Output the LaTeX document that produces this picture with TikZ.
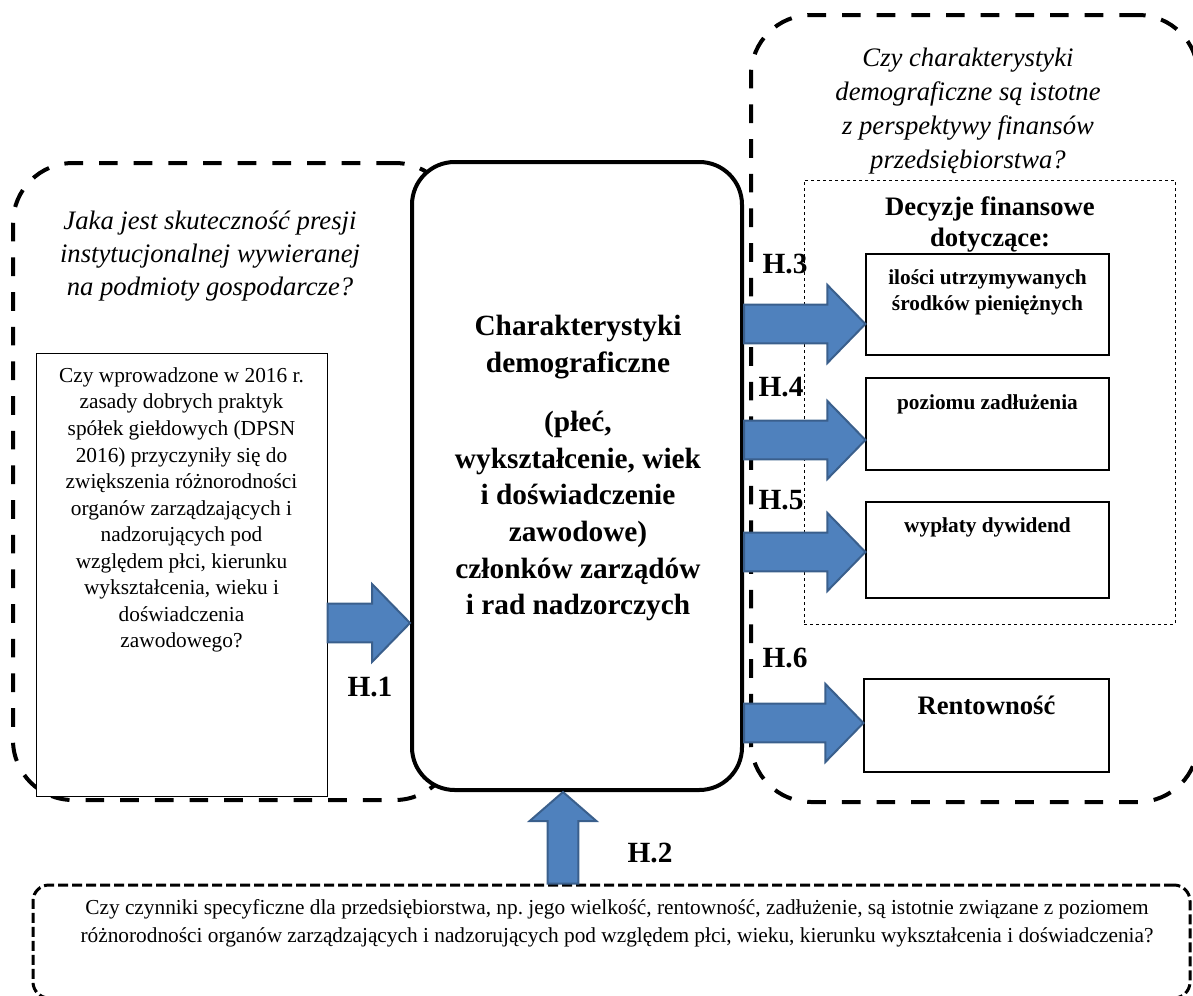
\documentclass[tikz,border=0pt]{standalone}
\usepackage{fontspec}
\setmainfont{Liberation Serif}
\usetikzlibrary{calc}
\frenchspacing
\definecolor{arrowfill}{HTML}{4F81BD}
\definecolor{arrowedge}{HTML}{3A5F8C}
\tikzset{
  bigdash/.style={draw=black, line width=3pt, dash pattern=on 14pt off 12pt, rounded corners=45pt, inner sep=0pt},
  botdash/.style={draw=black, line width=2.25pt, dash pattern=on 7.5pt off 3pt, rounded corners=12pt, inner sep=0pt},
  thindash/.style={draw=black, line width=0.75pt, dash pattern=on 2.5pt off 2pt, inner sep=0pt},
  mainbox/.style={draw=black, fill=white, line width=3pt, rounded corners=32pt, inner sep=0pt},
  smallbox/.style={draw=black, fill=white, line width=0.9pt, inner sep=0pt},
  textbox/.style={draw=black, fill=white, line width=0.75pt, inner sep=0pt},
  barrow/.style={fill=arrowfill, draw=arrowedge, line width=1.5pt, line join=miter},
  hlabel/.style={font=\fontsize{22}{26}\selectfont\bfseries, inner sep=0pt},
  txt/.style={align=center, inner sep=0pt}
}
\newcommand\harrow[3]{%
  \path[barrow] let \p1=(#1 |- 0,#3), \p2=(#2 |- 0,#3) in
    (\x1,\y1+14.6pt) -- (\x2-28.5pt,\y1+14.6pt) -- (\x2-28.5pt,\y1+29.25pt) -- (\x2,\y1)
    -- (\x2-28.5pt,\y1-29.25pt) -- (\x2-28.5pt,\y1-14.6pt) -- (\x1,\y1-14.6pt) -- cycle;}
\begin{document}
\begin{tikzpicture}[x=0.75pt,y=-0.75pt]
\useasboundingbox (0,0) rectangle (1193,996);
% outer dashed regions
\node[bigdash, minimum width=331.5pt, minimum height=477.75pt] (lb) at (234,481.5) {};
\node[bigdash, minimum width=335.25pt, minimum height=590.25pt] (rb) at (974.5,408.5) {};
\node[botdash, minimum width=867.75pt, minimum height=84.75pt] (bb) at (611.5,941.5) {};
\node[thindash, minimum width=278.25pt, minimum height=333pt] (db) at (989.5,402) {};
% questions
\node[txt, font=\fontsize{20}{24.75}\selectfont\itshape] (q1) at (210,256)
  {Jaka jest skuteczność presji\\instytucjonalnej wywieranej\\na podmioty gospodarcze?};
\node[txt, font=\fontsize{20}{25.5}\selectfont\itshape] (q2) at (968,111)
  {Czy charakterystyki\\demograficzne są istotne\\z perspektywy finansów\\przedsiębiorstwa?};
\node[txt, font=\fontsize{20}{23.25}\selectfont\bfseries] (dec) at (990,224)
  {Decyzje finansowe\\dotyczące:};
\node[txt, font=\fontsize{16}{21}\selectfont] (bq) at (617,923)
  {Czy czynniki specyficzne dla przedsiębiorstwa, np. jego wielkość, rentowność, zadłużenie, są istotnie związane z poziomem\\różnorodności organów zarządzających i nadzorujących pod względem płci, wieku, kierunku wykształcenia i doświadczenia?};
% central box
\node[mainbox, minimum width=247.5pt, minimum height=471pt] (c) at (577,476) {};
\node[txt, font=\fontsize{22}{27.5}\selectfont\bfseries] (ct) at (578,468)
  {Charakterystyki\\demograficzne\\[17pt](płeć,\\wykształcenie, wiek\\i doświadczenie\\zawodowe)\\członków zarządów\\i rad nadzorczych};
% left text box
\node[textbox, minimum width=218.25pt, minimum height=332.25pt] (lt) at (181.5,574.5) {};
\node[txt, font=\fontsize{16}{19.9}\selectfont] (ltt) at (181.5,510)
  {Czy wprowadzone w 2016 r.\\zasady dobrych praktyk\\spółek giełdowych (DPSN\\2016) przyczyniły się do\\zwiększenia różnorodności\\organów zarządzających i\\nadzorujących pod\\względem płci, kierunku\\wykształcenia, wieku i\\doświadczenia\\zawodowego?};
% right boxes
\node[smallbox, minimum width=182.25pt, minimum height=75.75pt] (b1) at (987.5,304.5) {};
\node[smallbox, minimum width=182.25pt, minimum height=69pt] (b2) at (987.5,424) {};
\node[smallbox, minimum width=182.25pt, minimum height=72pt] (b3) at (987.5,550) {};
\node[smallbox, minimum width=183.75pt, minimum height=69.75pt] (b4) at (986.5,725.5) {};
\node[txt, font=\fontsize{16}{19.5}\selectfont\bfseries] (b1t) at (987.5,292) {ilości utrzymywanych\\środków pieniężnych};
\node[txt, font=\fontsize{16}{19.5}\selectfont\bfseries] (b2t) at (987.5,404) {poziomu zadłużenia};
\node[txt, font=\fontsize{16}{19.5}\selectfont\bfseries] (b3t) at (987.5,527) {wypłaty dywidend};
\node[txt, font=\fontsize{20}{24}\selectfont\bfseries] (b4t) at (986.5,705) {Rentowność};
% arrows
\harrow{lt.east}{c.west}{623}
\harrow{c.east}{b1.west}{324}
\harrow{c.east}{b2.west}{440}
\harrow{c.east}{b3.west}{552}
\harrow{c.east}{b4.west}{723}
\path[barrow] let \p1=(bb.north -| 563,0), \p2=(c.south -| 563,0) in
  (\x1-11.6pt,\y1) -- (\x1-11.6pt,\y2-21.75pt) -- (\x1-25pt,\y2-21.75pt) -- (\x1,\y2)
  -- (\x1+25pt,\y2-21.75pt) -- (\x1+11.6pt,\y2-21.75pt) -- (\x1+11.6pt,\y1) -- cycle;
% labels
\node[hlabel] (h1) at (370,687) {H.1};
\node[hlabel] (h2) at (650,853) {H.2};
\node[hlabel] (h3) at (785,264) {H.3};
\node[hlabel] (h4) at (781,387) {H.4};
\node[hlabel] (h5) at (781,500) {H.5};
\node[hlabel] (h6) at (785,658) {H.6};
\end{tikzpicture}
\end{document}
